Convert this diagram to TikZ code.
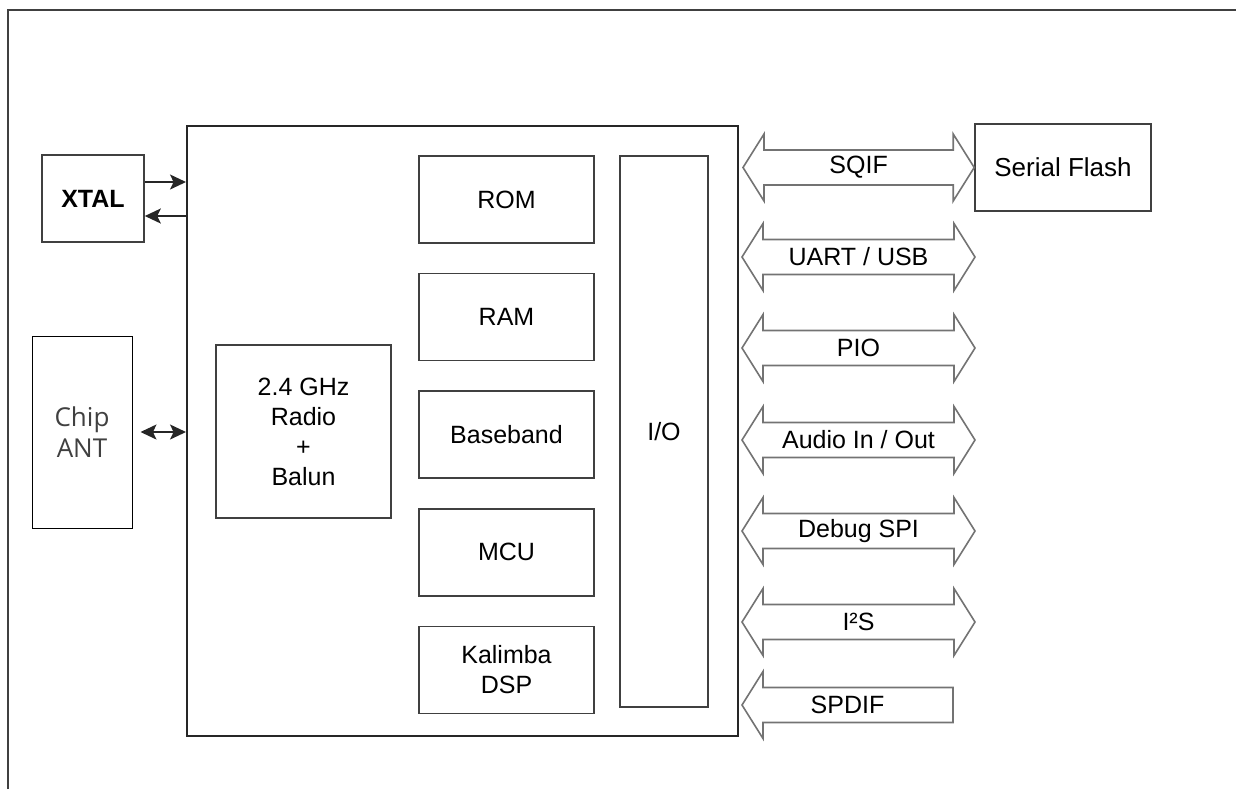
\documentclass[tikz,border=0pt]{standalone}
\usepackage{fontspec}
\setmainfont{Liberation Sans}
\newfontfamily\antfont{Open Sans}
\usetikzlibrary{positioning,arrows.meta}

\tikzset{
  blk/.style={draw=black!75,line width=0.8pt,align=center,minimum width=87.5pt,minimum height=43.5pt,inner sep=0pt},
  busline/.style={draw=black!55,line width=0.8pt,line join=miter},
  buslabel/.style={inner sep=0pt},
  sig/.style={black!85,line width=0.9pt},
  bustwo/.style={to path={-- ++(21,-33.5) -- ++(0,16) -- ([shift={(-21,-17.5)}]\tikztotarget) -- ++(0,-16) -- (\tikztotarget) -- ++(-21,33.5) -- ++(0,-16) -- ([shift={(21,17.5)}]\tikztostart) -- ++(0,16) -- cycle}},
  busone/.style={to path={-- ++(21,-33.5) -- ++(0,16) -- ([shift={(0,-17.5)}]\tikztotarget) -- ([shift={(0,17.5)}]\tikztotarget) -- ([shift={(21,17.5)}]\tikztostart) -- ++(0,16) -- cycle}}
}

\begin{document}
\begin{tikzpicture}[x=0.5pt,y=-0.5pt,font=\fontsize{12.5}{15}\selectfont,>={Stealth[length=8pt,width=7.5pt,inset=1.8pt]}]
        \useasboundingbox (0,0) rectangle (1236,789);

        % 外框
        \draw[black!75,line width=1pt] (8,789) -- (8,10) -- (1236,10);

        % 芯片
        \node[draw=black!85,line width=1pt,minimum width=275.5pt,minimum height=305pt] (chip) at (462.5,431) {};
        \node[blk,minimum height=86.5pt] (radio) at (303.5,431.5) {2.4 GHz\\Radio\\+\\Balun};
        \node[blk] (rom) at (506.5,199.5) {ROM};
        \node[blk,below=14.5pt of rom] (ram) {RAM};
        \node[blk,below=14.5pt of ram] (bb) {Baseband};
        \node[blk,below=14.5pt of bb] (mcu) {MCU};
        \node[blk,below=14.5pt of mcu] (dsp) {Kalimba\\DSP};
        \node[blk,minimum width=44pt,minimum height=275.5pt] (io) at (664,431.5) {I/O};

        % 外部器件
        \node[blk,minimum width=51pt,font=\fontsize{12.5}{15}\selectfont\bfseries] (xtal) at (93,198.5) {XTAL};
        \node[draw=black,line width=0.5pt,minimum width=50pt,minimum height=96pt,align=center,text=black!75,font=\antfont\fontsize{13}{15.5}\selectfont] (ant) at (82,432) {Chip\\ANT};
        \node[blk,minimum width=88pt,font=\fontsize{13}{15}\selectfont] (flash) at (1063,167.5) {Serial Flash};

        % 连线
        \draw[sig,->] ([yshift=8.25pt]xtal.east) -- ([yshift=8.25pt]xtal.east -| chip.west);
        \draw[sig,->] ([yshift=-8.75pt]xtal.east -| chip.west) -- ([yshift=-8.75pt]xtal.east);
        \draw[sig,<->] ([xshift=4pt]ant.east) -- (ant.east -| chip.west);

        % 总线
        \coordinate (sqifA) at ([xshift=2pt]chip.east |- flash.west);
        \coordinate (sqifB) at (flash.west);
        \coordinate (uartA) at (742,257);
        \coordinate (uartB) at (975,257);
        \coordinate (pioA) at (742,348);
        \coordinate (pioB) at (975,348);
        \coordinate (audioA) at (742,440);
        \coordinate (audioB) at (975,440);
        \coordinate (spiA) at (742,531);
        \coordinate (spiB) at (975,531);
        \coordinate (iisA) at (742,622);
        \coordinate (iisB) at (975,622);
        \coordinate (spdifA) at (742,705);
        \coordinate (spdifB) at (953,705);

        \draw[busline,bustwo] (sqifA) to (sqifB);
        \draw[busline,bustwo] (uartA) to (uartB);
        \draw[busline,bustwo] (pioA) to (pioB);
        \draw[busline,bustwo] (audioA) to (audioB);
        \draw[busline,bustwo] (spiA) to (spiB);
        \draw[busline,bustwo] (iisA) to (iisB);
        \draw[busline,busone] (spdifA) to (spdifB);

        % 标签
        \path (sqifA) -- node[buslabel] (sqif) {SQIF} (sqifB);
        \path (uartA) -- node[buslabel] (uart) {UART / USB} (uartB);
        \path (pioA) -- node[buslabel] (pio) {PIO} (pioB);
        \path (audioA) -- node[buslabel] (audio) {Audio In / Out} (audioB);
        \path (spiA) -- node[buslabel] (spi) {Debug SPI} (spiB);
        \path (iisA) -- node[buslabel] (iis) {I²S} (iisB);
        \path (spdifA) -- node[buslabel] (spdif) {SPDIF} (spdifB);
    \end{tikzpicture}
\end{document}
